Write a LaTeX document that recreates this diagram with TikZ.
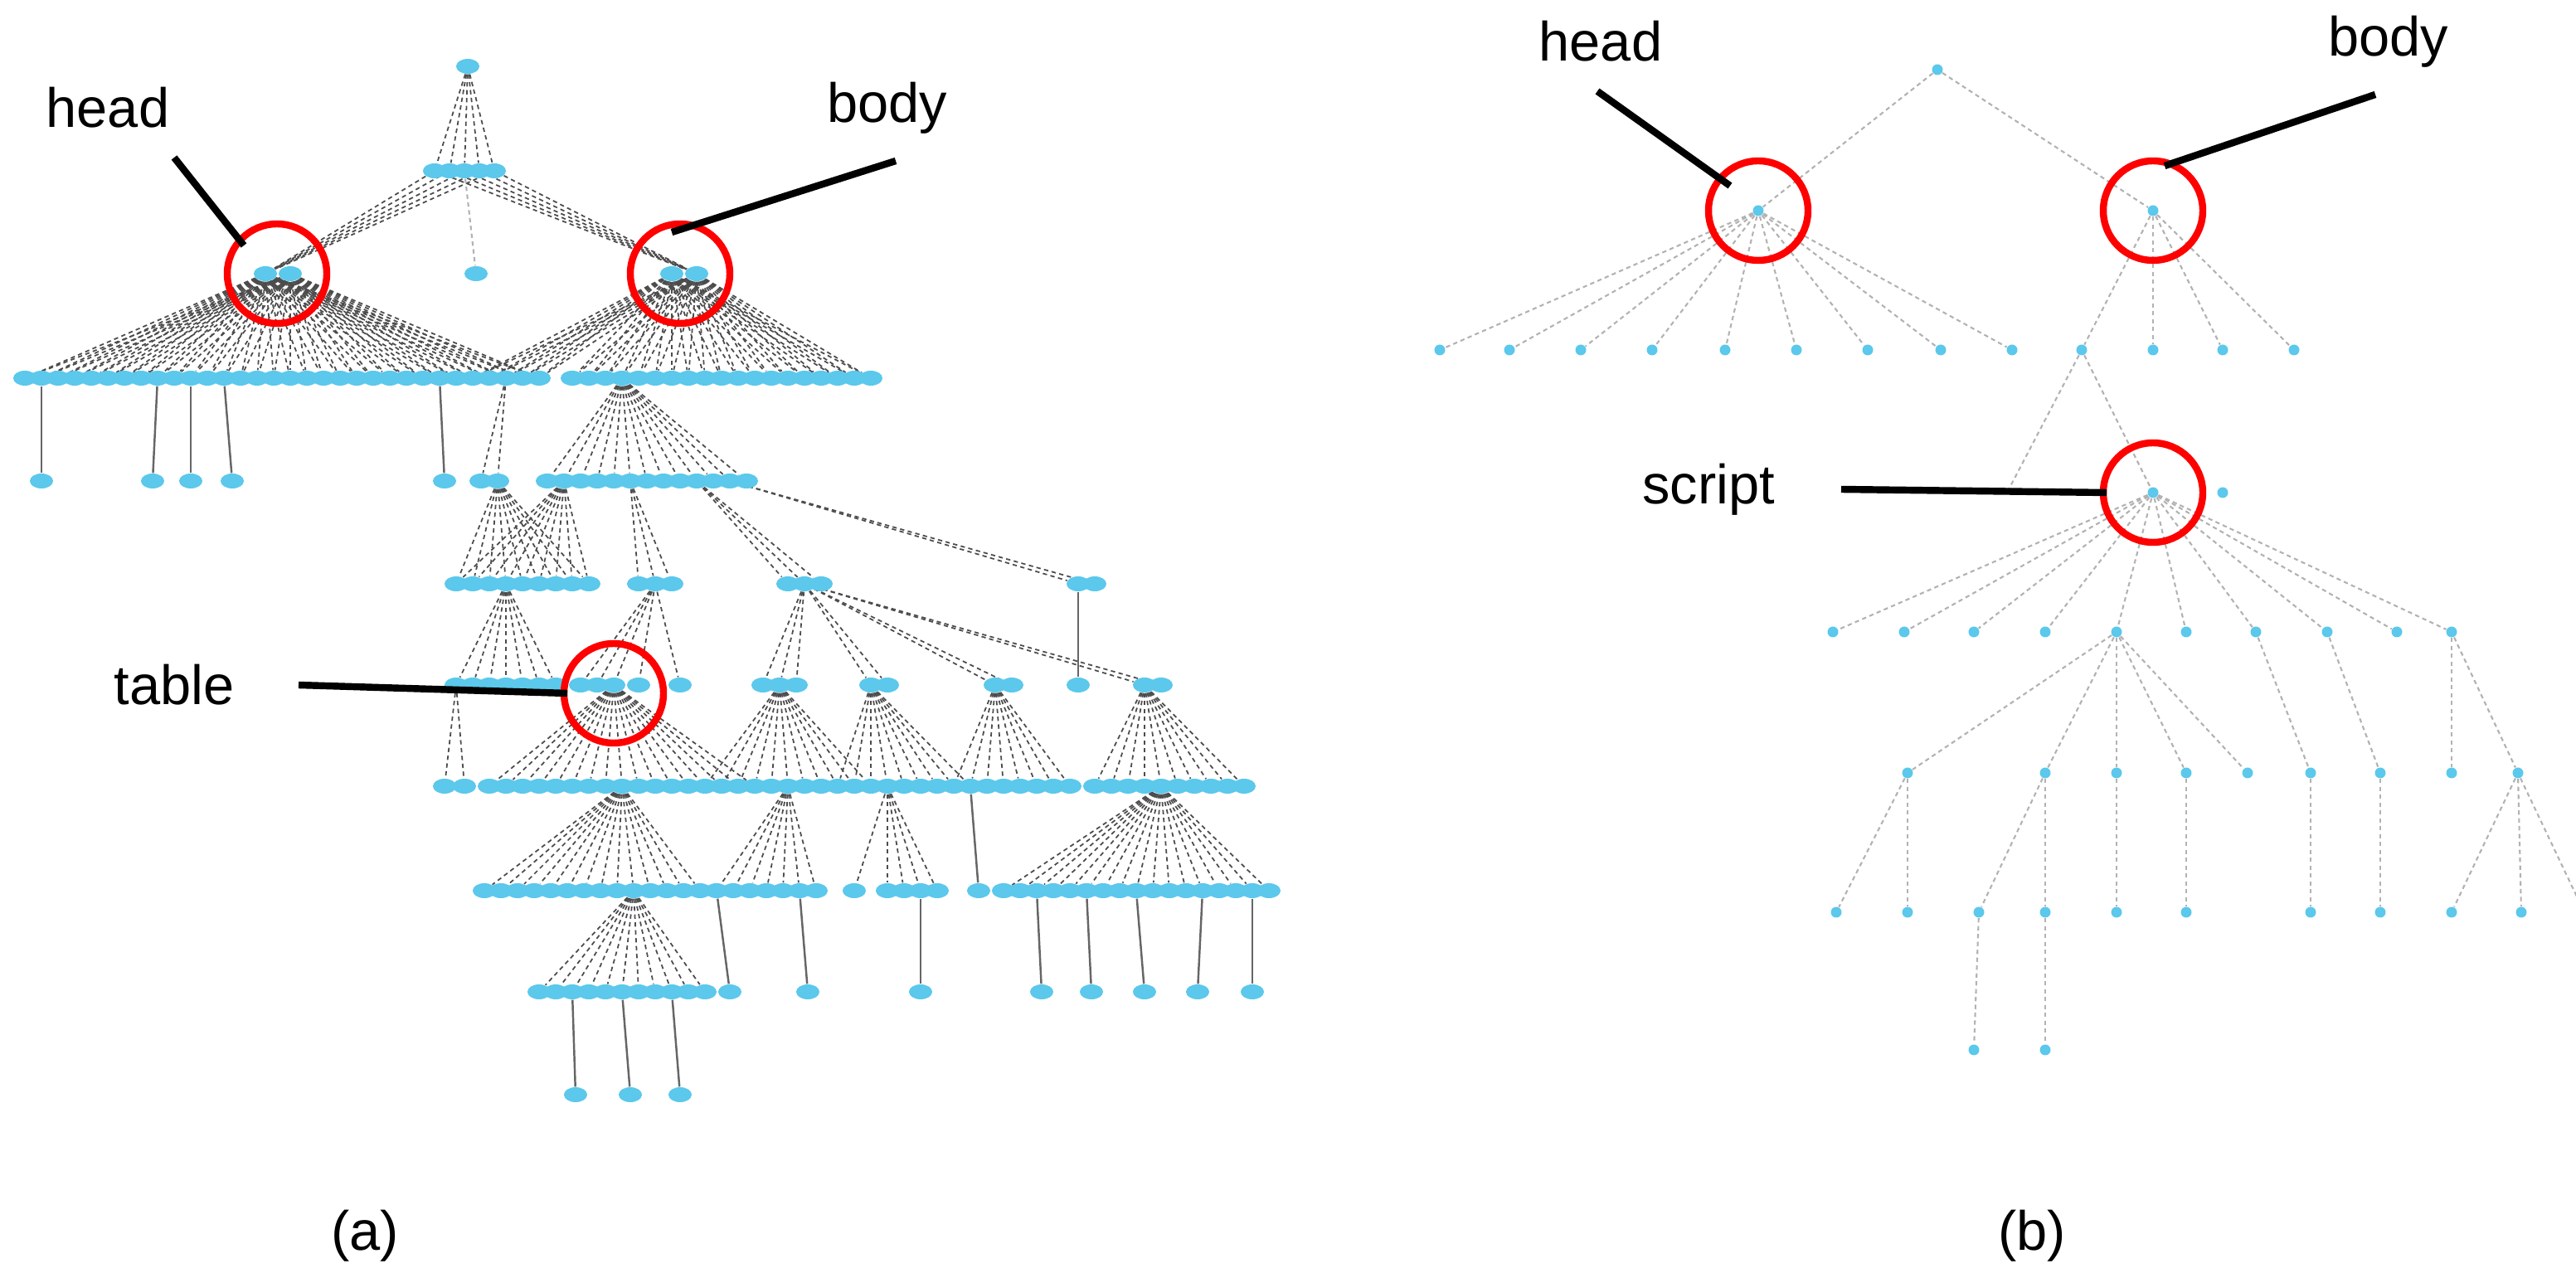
\documentclass[tikz,border=0pt]{standalone}
\usepackage{fontspec}
\setmainfont{Liberation Sans}
\usetikzlibrary{shapes.geometric,backgrounds}
\definecolor{nodec}{HTML}{5BC8EC}
\tikzset{
 nd/.style={ellipse,fill=nodec,inner sep=0pt,minimum width=0.28cm,minimum height=0.18cm},
 ndb/.style={circle,fill=nodec,inner sep=0pt,minimum size=0.13cm},
 ed/.style={draw=black!70,line width=0.5pt,dash pattern=on 1.5pt off 1.2pt},
 eds/.style={draw=black!60,line width=0.7pt},
 edl/.style={draw=black!30,line width=0.6pt,dash pattern=on 1.5pt off 1.2pt},
 ring/.style={draw=red,line width=2.4pt,circle,minimum size=1.2cm,inner sep=0pt},
 lbl/.style={font=\fontsize{19}{22}\selectfont},
 pt/.style={draw=black,line width=2.4pt}
}
\newcommand\mkrow[4]{\foreach \x in {#4} \node[#1] (#2-\x) at (\x,#3) {};}
\newcommand\fan[4]{\foreach \x in {#4} \draw[#1] (#2) -- (#3-\x);}
\begin{document}
\begin{tikzpicture}[x=0.02cm,y=-0.02cm]
\useasboundingbox (0,0) rectangle (1553,767.5);
% ---------- panel (a) nodes
\mkrow{nd}{a40}{40}{282}
\mkrow{nd}{a103}{103}{262,271,280,289,298}
\mkrow{nd}{a165}{165}{160,175,287,405,420}
\mkrow{nd}{a228}{228}{15,25,...,325,345,355,...,525}
\mkrow{nd}{a290}{290}{25,92,115,140,268,290,300,330,340,...,450}
\mkrow{nd}{a352}{352}{275,285,...,360,385,395,405,475,485,495,650,660}
\mkrow{nd}{a413}{413}{275,285,...,335,350,360,370,385,410,460,470,480,525,535,600,610,650,690,700}
\mkrow{nd}{a474}{474}{268,280,295,305,...,645,660,670,...,750}
\mkrow{nd}{a537}{537}{292,302,...,500,515,535,545,555,565,590,605,615,...,765}
\mkrow{nd}{a598}{598}{325,335,...,425,440,487,555,628,658,690,722,755}
\mkrow{nd}{a660}{660}{347,380,410}
% ---------- panel (b) nodes
\mkrow{ndb}{b42}{42}{1168}
\mkrow{ndb}{b127}{127}{1060,1298}
\mkrow{ndb}{b211}{211}{868,910,953,996,1040,1083,1126,1170,1213,1255,1298,1340,1383}
\mkrow{ndb}{b297}{297}{1298,1340}
\mkrow{ndb}{b381}{381}{1105,1148,1190,1233,1276,1318,1360,1403,1445,1478}
\mkrow{ndb}{b466}{466}{1150,1233,1276,1318,1355,1393,1435,1478,1518}
\mkrow{ndb}{b550}{550}{1107,1150,1193,1233,1276,1318,1393,1435,1478,1520,1558}
\mkrow{ndb}{b633}{633}{1190,1233}
\begin{pgfonlayer}{background}
% ---------- panel (a) edges
\fan{ed}{a40-282}{a103}{262,271,280,289,298}
\foreach \p in {262,271,280,289,298}{\draw[ed] (a103-\p) -- (a165-160); \draw[ed] (a103-\p) -- (a165-420);}
\draw[edl] (a103-280) -- (a165-287);
\foreach \p in {160,175}{\fan{ed}{a165-\p}{a228}{15,25,...,325}}
\foreach \p in {405,420}{\fan{ed}{a165-\p}{a228}{285,295,...,325,345,355,...,525}}
\foreach \x/\y in {25/25,95/92,115/115,135/140,265/268}{\draw[eds] (a228-\x) -- (a290-\y);}
\fan{ed}{a228-305}{a290}{290,300}
\fan{ed}{a228-375}{a290}{330,340,...,450}
\fan{ed}{a290-300}{a352}{275,285,...,360}
\fan{ed}{a290-340}{a352}{275,285,...,360}
\fan{ed}{a290-380}{a352}{385,395,405}
\fan{ed}{a290-420}{a352}{475,485,495}
\fan{ed}{a290-440}{a352}{650,660}
\fan{ed}{a352-305}{a413}{275,285,...,335}
\fan{ed}{a352-395}{a413}{350,360,370,385,410}
\fan{ed}{a352-485}{a413}{460,470,480,525,535,600,610,690,700}
\draw[eds] (a352-650) -- (a413-650);
\fan{ed}{a413-275}{a474}{268,280}
\fan{ed}{a413-370}{a474}{295,305,...,455}
\fan{ed}{a413-470}{a474}{425,435,...,525}
\fan{ed}{a413-525}{a474}{505,515,...,585}
\fan{ed}{a413-600}{a474}{575,585,...,645}
\fan{ed}{a413-690}{a474}{660,670,...,750}
\fan{ed}{a474-375}{a537}{292,302,...,422}
\fan{ed}{a474-475}{a537}{432,442,...,500}
\fan{ed}{a474-535}{a537}{515,535,545,555,565}
\draw[eds] (a474-585) -- (a537-590);
\fan{ed}{a474-700}{a537}{605,615,...,765}
\fan{ed}{a537-382}{a598}{325,335,...,425}
\foreach \x/\y in {432/440,482/487,555/555,625/628,655/658,685/690,725/722,755/755}{\draw[eds] (a537-\x) -- (a598-\y);}
\foreach \x/\y in {345/347,375/380,405/410}{\draw[eds] (a598-\x) -- (a660-\y);}
% ---------- panel (b) edges
\fan{edl}{b42-1168}{b127}{1060,1298}
\fan{edl}{b127-1060}{b211}{868,910,953,996,1040,1083,1126,1170,1213}
\fan{edl}{b127-1298}{b211}{1255,1298,1340,1383}
\draw[edl] (b211-1255) -- (b297-1298);
\draw[edl] (b211-1255) -- (1210,297);
\fan{edl}{b297-1298}{b381}{1105,1148,1190,1233,1276,1318,1360,1403,1445,1478}
\fan{edl}{b381-1276}{b466}{1150,1233,1276,1318,1355}
\draw[edl] (b381-1360) -- (b466-1393);
\draw[edl] (b381-1403) -- (b466-1435);
\draw[edl] (b381-1478) -- (b466-1478);
\draw[edl] (b381-1478) -- (b466-1518);
\fan{edl}{b466-1150}{b550}{1107,1150}
\fan{edl}{b466-1233}{b550}{1193,1233}
\foreach \x in {1276,1318,1393,1435}{\draw[edl] (b466-\x) -- (b550-\x);}
\fan{edl}{b466-1518}{b550}{1478,1520,1558}
\draw[edl] (b550-1193) -- (b633-1190);
\draw[edl] (b550-1233) -- (b633-1233);
\end{pgfonlayer}
% ---------- annotations
\node[ring] (ra1) at (167,165) {};
\node[ring] (ra2) at (410,165) {};
\node[ring] (ra3) at (370,418) {};
\node[lbl] (ta1) at (65,65) {head};
\node[lbl] (ta2) at (535,65) {body};
\node[lbl] (ta3) at (105,413) {table};
\coordinate (ea1) at (147,148);
\coordinate (ea2) at (405,140);
\coordinate (ea3) at (342,418);
\draw[pt] (105,95) -- (ea1);
\draw[pt] (540,97) -- (ea2);
\draw[pt] (180,413) -- (ea3);
\node[ring] (rb1) at (1060,127) {};
\node[ring] (rb2) at (1298,127) {};
\node[ring] (rb3) at (1298,297) {};
\node[lbl] (tb1) at (965,25) {head};
\node[lbl] (tb2) at (1440,25) {body};
\node[lbl] (tb3) at (1030,295) {script};
\coordinate (eb1) at (1043,112);
\coordinate (eb2) at (1305,100);
\coordinate (eb3) at (1270,297);
\draw[pt] (963,55) -- (eb1);
\draw[pt] (1432,57) -- (eb2);
\draw[pt] (1110,295) -- (eb3);
\node[lbl] (capa) at (220,745) {(a)};
\node[lbl] (capb) at (1225,745) {(b)};
\end{tikzpicture}
\end{document}
